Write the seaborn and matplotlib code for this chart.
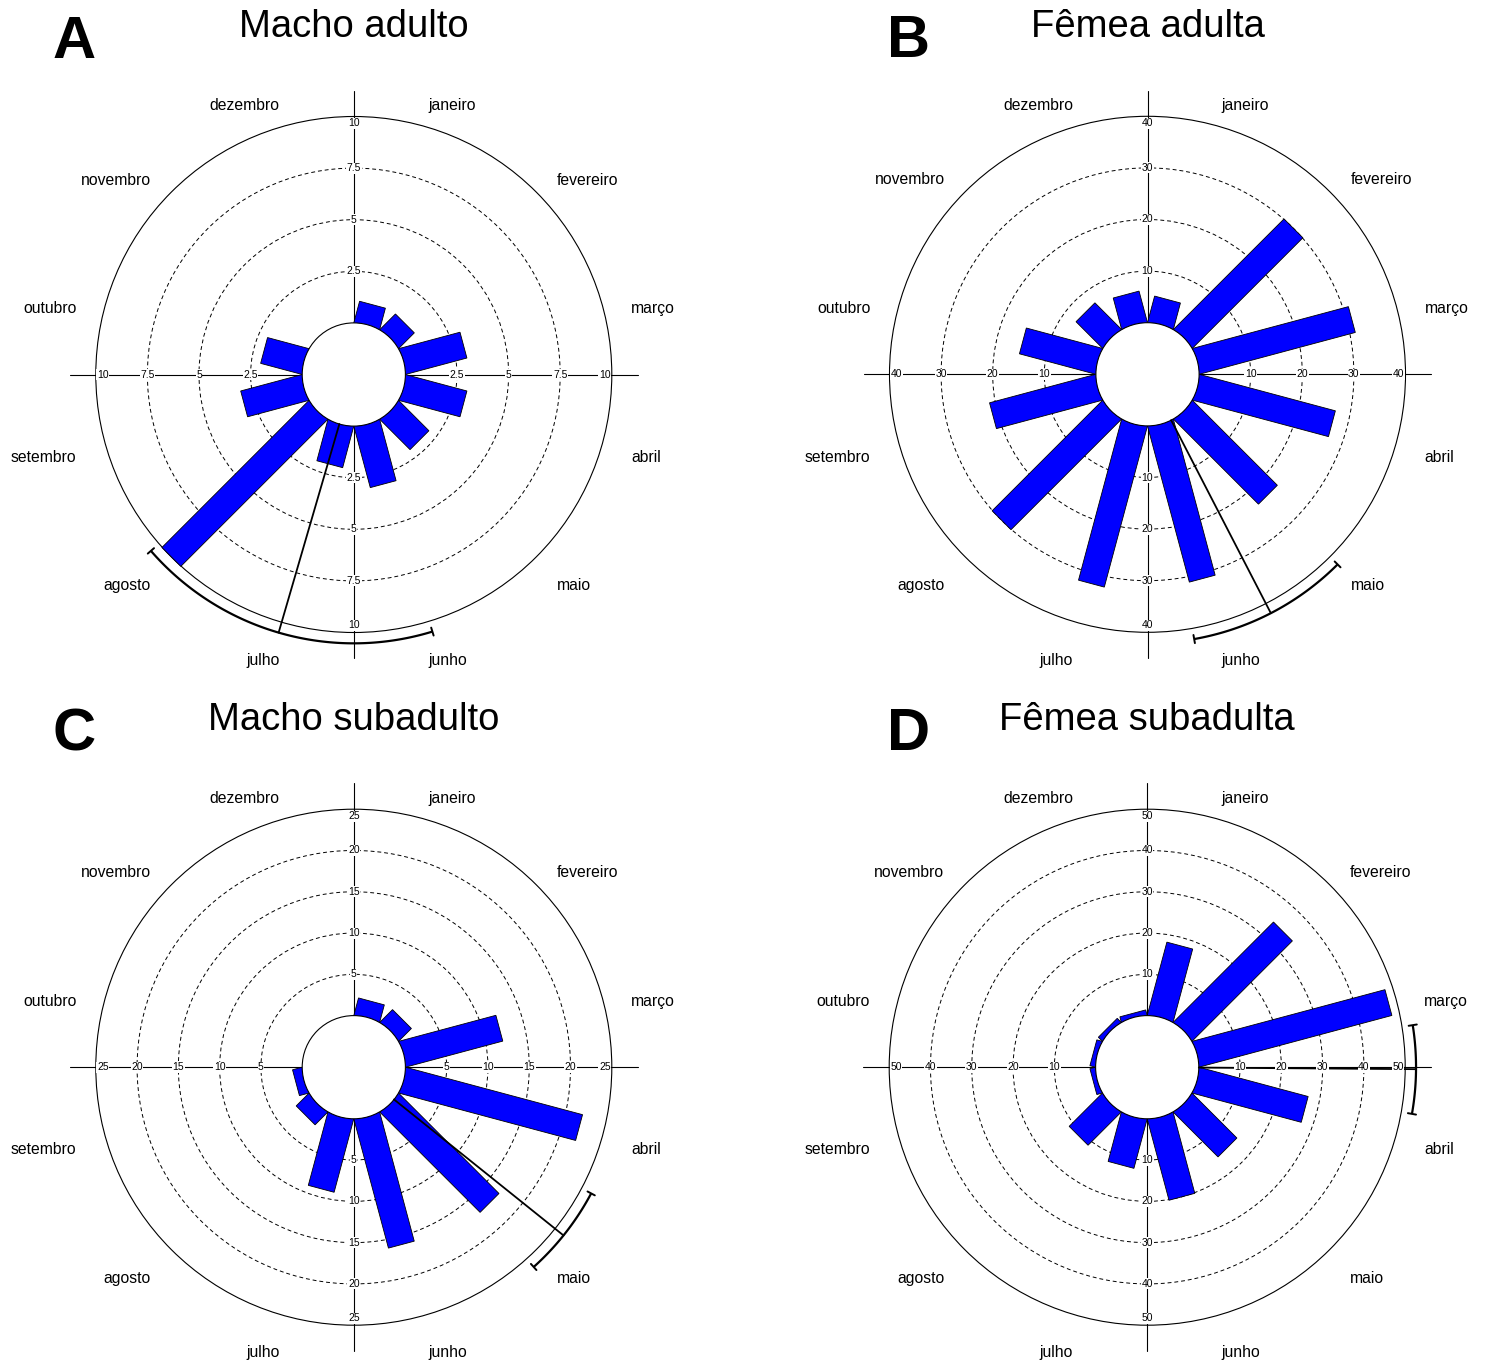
import numpy as np
import matplotlib
matplotlib.use("Agg")
import matplotlib.pyplot as plt
from matplotlib.patches import Polygon, Circle
import seaborn as sns

# Dados (contagens por mês)
meses = ["janeiro", "fevereiro", "março", "abril", "maio", "junho",
         "julho", "agosto", "setembro", "outubro", "novembro", "dezembro"]

macho_adulto = [1, 1, 3, 3, 2, 3, 2, 10, 3, 2, 0, 0]
femea_adulta = [5, 30, 31, 27, 23, 31, 32, 30, 21, 15, 7, 6]
macho_subadulto = [2, 2, 12, 22, 17, 16, 9, 2, 1, 0, 0, 0]
femea_subadulta = [18, 34, 48, 27, 15, 20, 12, 11, 1, 1, 1, 1]

titulos = ["Macho adulto", "Fêmea adulta", "Macho subadulto", "Fêmea subadulta"]
letras = ["A", "B", "C", "D"]
escala_max = [10, 40, 25, 50]
escala_passo = [2.5, 10, 5, 10]

# intervalo de confiança da direção média (graus, horário a partir do norte)
ic_inicio = [163, 135, 118, 81]
ic_fim = [229, 170, 138, 100]

sns.set_theme(style="white")
plt.rcParams["font.family"] = ["Liberation Sans", "DejaVu Sans"]
plt.rcParams["text.color"] = "black"

W, H = 1489, 1367
fig = plt.figure(figsize=(W / 100, H / 100), dpi=100)
fig.patch.set_facecolor("white")

R_PX = 258.0          # raio do círculo externo em pixels
R_IN = 0.2            # raio do círculo interno (fração do externo)
centros = [(353.8, 374.5), (1147.5, 374.3), (353.8, 1067.2), (1147.2, 1067.2)]
hw, hh = 396.75, 346.35

angulos = np.deg2rad(15 + 30 * np.arange(12))
largura = 2 * R_IN * np.sin(np.deg2rad(15))


def raio(v, vmax):
    return R_IN + (1 - R_IN) * np.asarray(v, dtype=float) / vmax


def rosa(ax, valores, vmax, passo, ic0, ic1):
    valores = np.asarray(valores, dtype=float)
    # eixos em cruz
    ax.plot([-1.1, 1.1], [0, 0], color="black", lw=0.8, zorder=1)
    ax.plot([0, 0], [-1.1, 1.1], color="black", lw=0.8, zorder=1)

    ticks = np.arange(passo, vmax + passo / 2, passo)
    for t in ticks[:-1]:
        ax.add_patch(Circle((0, 0), raio(t, vmax), fill=False, ec="black",
                            lw=0.7, ls=(0, (4, 3)), zorder=2))
    ax.add_patch(Circle((0, 0), 1.0, fill=False, ec="black", lw=0.8, zorder=2))

    # barras retangulares
    comp = raio(valores, vmax)
    for th, L, v in zip(angulos, comp, valores):
        if v <= 0:
            continue
        d = np.array([np.sin(th), np.cos(th)])
        p = np.array([np.cos(th), -np.sin(th)]) * largura / 2
        ax.add_patch(Polygon([-p, p, p + L * d, -p + L * d], closed=True,
                             fc="#0000FF", ec="black", lw=0.6, zorder=3))

    ax.add_patch(Circle((0, 0), R_IN, fc="white", ec="black", lw=0.8, zorder=4))

    # direção média e intervalo de confiança
    media = np.arctan2(np.sum(valores * np.sin(angulos)),
                       np.sum(valores * np.cos(angulos)))
    r_arc = 1.042
    ax.plot([R_IN * np.sin(media), r_arc * np.sin(media)],
            [R_IN * np.cos(media), r_arc * np.cos(media)],
            color="black", lw=1.3, zorder=5)
    t = np.deg2rad(np.linspace(ic0, ic1, 120))
    ax.plot(r_arc * np.sin(t), r_arc * np.cos(t), color="black", lw=1.6,
            zorder=5, solid_capstyle="butt")
    for a in np.deg2rad([ic0, ic1]):
        ax.plot([(r_arc - 0.016) * np.sin(a), (r_arc + 0.016) * np.sin(a)],
                [(r_arc - 0.016) * np.cos(a), (r_arc + 0.016) * np.cos(a)],
                color="black", lw=1.4, zorder=5)

    # rótulos da escala
    for tv in ticks:
        r = raio(tv, vmax)
        if tv == ticks[-1]:
            r = 1.0 - 7 / R_PX
        for dx, dy in [(1, 0), (-1, 0), (0, 1), (0, -1)]:
            ax.text(dx * r, dy * r, f"{tv:g}", fontsize=7.5, ha="center",
                    va="center", zorder=6, color="black",
                    bbox=dict(boxstyle="square,pad=0.05", fc="white", ec="none"))

    # meses
    rho = 287 / R_PX
    for th, nome in zip(angulos, meses):
        x = rho * np.sin(th)
        y = rho * np.cos(th) - 8.5 / R_PX
        ax.text(x, y, nome, fontsize=11.3, ha="left" if x > 0 else "right",
                va="center", zorder=6, color="black")


dados = [macho_adulto, femea_adulta, macho_subadulto, femea_subadulta]
for i, (cx, cy) in enumerate(centros):
    ax = fig.add_axes([(cx - hw) / W, (H - (cy + hh)) / H, 2 * hw / W, 2 * hh / H])
    ax.set_xlim(-hw / R_PX, hw / R_PX)
    ax.set_ylim(-hh / R_PX, hh / R_PX)
    ax.set_facecolor("none")
    ax.axis("off")
    rosa(ax, dados[i], escala_max[i], escala_passo[i], ic_inicio[i], ic_fim[i])

    fig.text(cx / W, 1 - (cy - 347.5) / H, titulos[i], fontsize=27.5,
             ha="center", va="center", color="black")
    lx = 53 if i % 2 == 0 else 887
    fig.text(lx / W, 1 - (cy - 332.5) / H, letras[i], fontsize=43,
             fontweight="bold", ha="left", va="center", color="black")

fig.savefig("out.png", dpi=100)
